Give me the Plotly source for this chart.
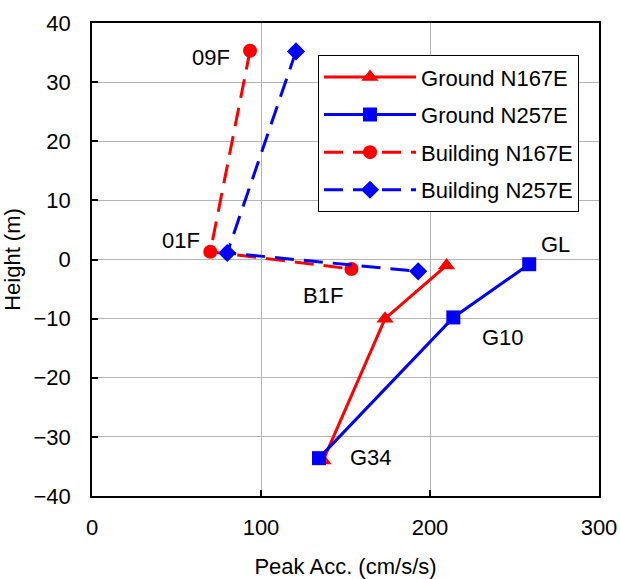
import plotly.graph_objects as go

# Data
floors_bld = ["09F", "01F", "B1F"]
bld_n167e = [93.5, 70.0, 153.5]
height_bld_n167e = [35.3, 1.3, -1.6]
bld_n257e = [120.7, 80.0, 193.0]
height_bld_n257e = [35.2, 1.1, -2.0]

floors_gnd = ["GL", "G10", "G34"]
gnd_n167e = [209.8, 173.4, 136.7]
height_gnd_n167e = [-1.0, -10.0, -34.0]
gnd_n257e = [258.7, 213.8, 134.3]
height_gnd_n257e = [-0.8, -9.8, -33.6]

font = "Liberation Sans, Arial, sans-serif"
RED = "#ff0000"
BLUE = "#0000ff"
FS = 22

fig = go.Figure()
fig.add_trace(go.Scatter(x=gnd_n167e, y=height_gnd_n167e, mode="lines+markers",
                         name="Ground N167E", legendgroup="a", line=dict(color=RED, width=3),
                         marker=dict(symbol="triangle-up", size=15, color=RED)))
fig.add_trace(go.Scatter(x=gnd_n257e, y=height_gnd_n257e, mode="lines+markers",
                         name="Ground N257E", legendgroup="b", line=dict(color=BLUE, width=3),
                         marker=dict(symbol="square", size=14, color=BLUE)))
fig.add_trace(go.Scatter(x=bld_n167e, y=height_bld_n167e, mode="lines+markers",
                         name="Building N167E", legendgroup="c",
                         line=dict(color=RED, width=3, dash="19px,10px"),
                         marker=dict(symbol="circle", size=14, color=RED)))
fig.add_trace(go.Scatter(x=bld_n257e, y=height_bld_n257e, mode="lines+markers",
                         name="Building N257E", legendgroup="d",
                         line=dict(color=BLUE, width=3, dash="19px,10px"),
                         marker=dict(symbol="diamond", size=14, color=BLUE)))

# Labels, anchored to data points
ann_font = dict(family=font, size=FS, color="black")
labels = [
    (floors_bld[0], bld_n167e[0], height_bld_n167e[0], "right", -18, -7),
    (floors_bld[1], bld_n167e[1], height_bld_n167e[1], "right", -8, 11),
    (floors_bld[2], bld_n167e[2], height_bld_n167e[2], "right", -6, -27),
    (floors_gnd[0], gnd_n257e[0], height_gnd_n257e[0], "left", 10, 20),
    (floors_gnd[1], gnd_n257e[1], height_gnd_n257e[1], "left", 27, -20),
    (floors_gnd[2], gnd_n257e[2], height_gnd_n257e[2], "left", 29, 1),
]
for text, x, y, xa, xs, ys in labels:
    fig.add_annotation(x=x, y=y, text=text, showarrow=False, xanchor=xa, yanchor="middle",
                       xshift=xs, yshift=ys, font=ann_font)

axis_common = dict(showline=True, linecolor="black", linewidth=1.5, mirror=True,
                   showgrid=True, gridcolor="#b4b4b4", gridwidth=1,
                   ticks="inside", ticklen=6, tickcolor="black", tickwidth=1.5,
                   tickfont=dict(family=font, size=FS, color="black"), zeroline=False,
                   automargin=False)

fig.update_layout(
    width=620, height=579,
    margin=dict(l=92, r=21, t=23, b=83),
    paper_bgcolor="white", plot_bgcolor="white",
    showlegend=True,
    legend=dict(x=0.4458, y=0.932, xanchor="left", yanchor="top",
                bgcolor="white", bordercolor="black", borderwidth=1,
                font=dict(family=font, size=FS, color="black"),
                itemwidth=92, tracegroupgap=6),
    xaxis=dict(range=[0, 300], dtick=100, ticklabelstandoff=11,
               title=dict(text="Peak Acc. (cm/s/s)",
                          font=dict(family=font, size=FS, color="black"), standoff=21),
               **axis_common),
    yaxis=dict(range=[-40, 40], dtick=10, ticklabelstandoff=15,
               title=dict(text="Height (m)",
                          font=dict(family=font, size=FS, color="black"), standoff=10),
               **axis_common),
)

# Remove the default page margin so the figure fills the window exactly
fig.write_html("out.html", config={"displayModeBar": False},
               post_script="document.body.style.margin='0';document.body.style.overflow='hidden';")
